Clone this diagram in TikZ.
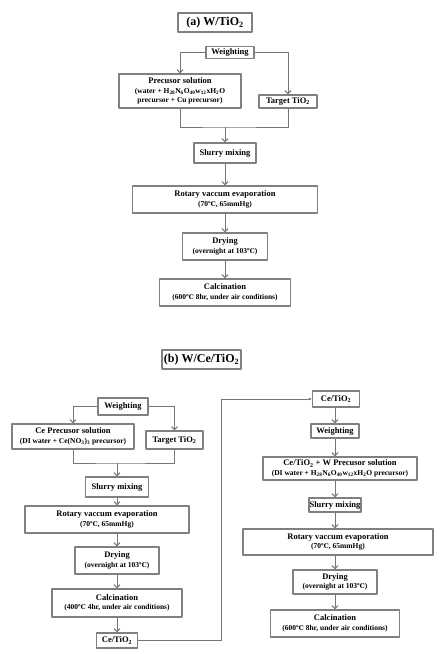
\documentclass[tikz,border=0pt]{standalone}
\usepackage{fontspec}
\setmainfont{Liberation Serif}
\newfontfamily\dejavu{DejaVu Serif}
\usetikzlibrary{arrows.meta}
\definecolor{boxgray}{RGB}{128,128,128}
\definecolor{linegray}{RGB}{118,118,118}
\newcommand{\degc}{{\dejavu\fontsize{6.5}{8}\selectfont\char"2103}}
\newcommand{\detail}{\fontsize{7.5}{8.5}\selectfont}
\newcommand{\chemsub}[1]{\textsubscript{#1}}
\tikzset{
  stepbox/.style={draw=boxgray, line width=1.4pt, fill=white, align=center, inner sep=0.5pt,
    font=\fontsize{8.5}{9.5}\selectfont\bfseries},
  titlebox/.style={stepbox, line width=1.8pt, font=\fontsize{12}{14}\selectfont\bfseries},
  flow/.style={draw=linegray, line width=1pt, -{Straight Barb[length=3pt,width=6pt]}},
  link/.style={draw=linegray, line width=0.8pt}
}
\begin{document}
\begin{tikzpicture}[x=1pt, y=-1pt, line join=round]
\useasboundingbox[fill=white] (0,0) rectangle (442,654);
% (a) W/TiO2
\node[titlebox, minimum width=74pt, minimum height=19pt] (titleA) at (215,22.5) {(a) W/TiO\chemsub{2}};
\node[stepbox, minimum width=48pt, minimum height=12pt] (weighA) at (230,52.5) {Weighting};
\node[stepbox, minimum width=122pt, minimum height=34pt] (precA) at (180,91)
  {Precusor solution\\\detail (water + H\chemsub{28}N\chemsub{6}O\chemsub{40}w\chemsub{12}xH\chemsub{2}O\\\detail precursor + Cu  precursor)};
\node[stepbox, minimum width=58pt, minimum height=13pt] (targetA) at (288,101.5) {Target TiO\chemsub{2}};
\coordinate (mergeA) at (225,127);
\node[stepbox, minimum width=62pt, minimum height=20pt] (slurryA) at (225,153) {Slurry mixing};
\node[stepbox, minimum width=185pt, minimum height=27pt] (rotaryA) at (225,199.5)
  {Rotary vaccum evaporation\\\detail (70\degc, 65mmHg)};
\node[stepbox, minimum width=85pt, minimum height=27pt] (dryA) at (225,246.5)
  {Drying\\\detail (overnight at 103\degc)};
\node[stepbox, minimum width=131pt, minimum height=27pt] (calcA) at (225,292.5)
  {Calcination\\\detail (600\degc{} 8hr, under air conditions)};
\draw[flow] (weighA.west) -| (precA.north);
\draw[flow] (weighA.east) -| (targetA.north);
\draw[link] (precA.south) |- (mergeA) -| (targetA.south);
\draw[flow] (mergeA) -- (slurryA.north);
\draw[flow] (slurryA) -- (rotaryA);
\draw[flow] (rotaryA) -- (dryA);
\draw[flow] (dryA) -- (calcA);
% (b) W/Ce/TiO2
\node[titlebox, minimum width=79pt, minimum height=19pt] (titleB) at (201.5,359.5) {(b) W/Ce/TiO\chemsub{2}};
\node[stepbox, minimum width=50pt, minimum height=17pt] (weighB) at (123,406.5) {Weighting};
\node[stepbox, minimum width=122pt, minimum height=25pt] (ceprecB) at (73,436.5)
  {Ce Precusor solution\\\detail (DI water + Ce(NO\chemsub{3})\chemsub{3} precursor)};
\node[stepbox, minimum width=57pt, minimum height=18pt] (targetB) at (174.5,440) {Target TiO\chemsub{2}};
\coordinate (mergeB) at (117,463);
\node[stepbox, minimum width=63pt, minimum height=20pt] (slurryB) at (117,487) {Slurry mixing};
\node[stepbox, minimum width=164pt, minimum height=27pt] (rotaryB) at (107,519.5)
  {Rotary vaccum evaporation\\\detail (70\degc, 65mmHg)};
\node[stepbox, minimum width=84pt, minimum height=27pt] (dryB) at (117,560.5)
  {Drying\\\detail (overnight at 103\degc)};
\node[stepbox, minimum width=130pt, minimum height=28pt] (calcB) at (117,603)
  {Calcination\\\detail (400\degc{} 4hr, under air conditions)};
\node[stepbox, minimum width=41pt, minimum height=15pt] (cetiB) at (117,640.5) {Ce/TiO\chemsub{2}};
\draw[flow] (weighB.west) -| (ceprecB.north);
\draw[flow] (weighB.east) -| (targetB.north);
\draw[link] (ceprecB.south) |- (mergeB) -| (targetB.south);
\draw[flow] (mergeB) -- (slurryB.north);
\draw[flow] (slurryB.south) -- (slurryB.south |- rotaryB.north);
\draw[flow] (dryB.north |- rotaryB.south) -- (dryB.north);
\draw[flow] (dryB) -- (calcB);
\draw[flow] (calcB) -- (cetiB);
% right column
\node[stepbox, minimum width=47pt, minimum height=16pt] (cetiR) at (336,399) {Ce/TiO\chemsub{2}};
\node[stepbox, minimum width=48pt, minimum height=14pt] (weighR) at (335,431) {Weighting};
\node[stepbox, minimum width=154pt, minimum height=23pt] (cewR) at (340,468.5)
  {Ce/TiO\chemsub{2} + W Precusor solution\\\detail (DI water + H\chemsub{28}N\chemsub{6}O\chemsub{40}w\chemsub{12}xH\chemsub{2}O precursor)};
\node[stepbox, minimum width=49pt, minimum height=14pt] (slurryR) at (335,505) {Slurry mixing};
\node[stepbox, minimum width=190pt, minimum height=26pt] (rotaryR) at (338,542)
  {Rotary vaccum evaporation\\\detail (70\degc, 65mmHg)};
\node[stepbox, minimum width=84pt, minimum height=24pt] (dryR) at (335,582)
  {Drying\\\detail (overnight at 103\degc)};
\node[stepbox, minimum width=129pt, minimum height=27pt] (calcR) at (335,623.5)
  {Calcination\\\detail (600\degc{} 8hr, under air conditions)};
\coordinate (turn) at (221,399);
\draw[link, -{Latex[length=3pt,width=3pt]}] (cetiB.east) -| (turn) -- (cetiR.west);
\draw[flow] (cetiR.south -| weighR.north) -- (weighR.north);
\draw[flow] (weighR.south) -- (weighR.south |- cewR.north);
\draw[flow] (slurryR.north |- cewR.south) -- (slurryR.north);
\draw[flow] (slurryR.south) -- (slurryR.south |- rotaryR.north);
\draw[flow] (dryR.north |- rotaryR.south) -- (dryR.north);
\draw[flow] (dryR) -- (calcR);
\end{tikzpicture}
\end{document}
